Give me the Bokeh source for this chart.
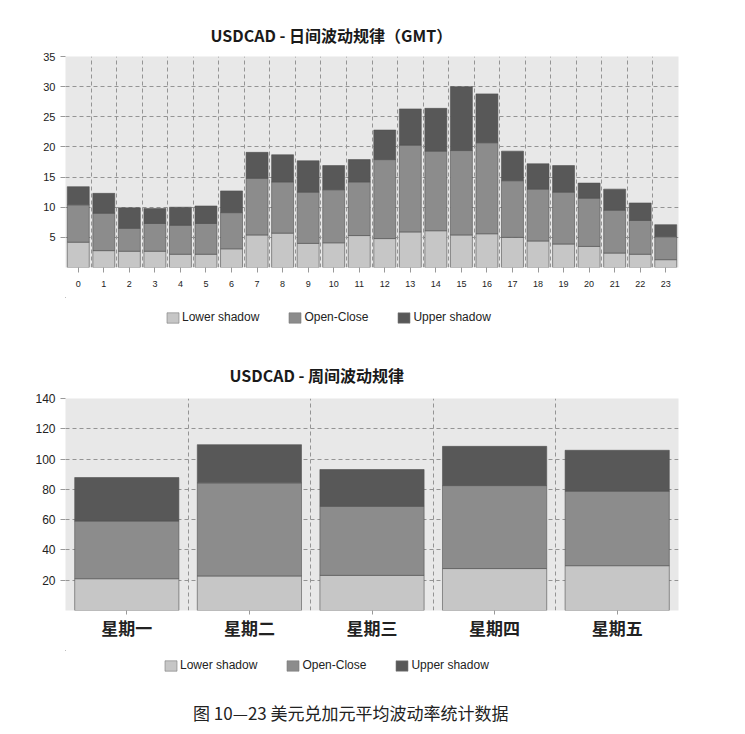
from bokeh.plotting import figure
from bokeh.models import (ColumnDataSource, Range1d, FixedTicker, Legend,
                          LegendItem, Label)
from bokeh.layouts import column
from bokeh.embed import file_html
from bokeh.resources import INLINE

# ---------------- data ----------------
hours = list(range(24))
hour_labels = [str(h) for h in hours]
hour_lower = [4.2, 2.8, 2.7, 2.7, 2.2, 2.2, 3.1, 5.4, 5.7, 4.0, 4.1, 5.3,
              4.8, 5.9, 6.1, 5.4, 5.6, 5.0, 4.4, 3.9, 3.5, 2.4, 2.2, 1.3]
hour_oc = [6.2, 6.2, 3.8, 4.6, 4.8, 5.1, 6.0, 9.4, 8.5, 8.5, 8.8, 8.9,
           13.1, 14.4, 13.2, 14.0, 15.1, 9.4, 8.6, 8.6, 8.0, 7.1, 5.6, 3.8]
hour_upper = [3.0, 3.3, 3.4, 2.5, 3.0, 2.9, 3.6, 4.3, 4.5, 5.2, 4.0, 3.7,
              4.9, 6.0, 7.1, 10.6, 8.1, 4.9, 4.2, 4.4, 2.5, 3.5, 2.9, 2.0]
hour_yticks = [5, 10, 15, 20, 25, 30, 35]

days = ["星期一", "星期二", "星期三", "星期四", "星期五"]
day_lower = [21.0, 22.8, 23.2, 27.7, 29.6]
day_oc = [38.1, 61.5, 45.6, 54.8, 49.2]
day_upper = [28.7, 25.2, 24.3, 25.9, 27.0]
day_yticks = [20, 40, 60, 80, 100, 120, 140]

series_names = ["Lower shadow", "Open-Close", "Upper shadow"]
series_colors = ["#c6c6c6", "#8c8c8c", "#585858"]

title_top = "USDCAD - 日间波动规律（GMT）"
title_bottom = "USDCAD - 周间波动规律"
caption = "图 10—23    美元兑加元平均波动率统计数据"

CJK = "Noto Sans CJK SC"
SANS = "Liberation Sans"
W = 730
LEFT = 65
RIGHT = 52


def make_chart(labels, lower, oc, upper, yticks, ymax, title, height,
               top, bottom, bar_w, xlabel_font, xlabel_size,
               xlabel_style, tick_out, xlabel_standoff, ylabel_size,
               title_offset, title_standoff):
    xs = list(range(len(labels)))
    src = ColumnDataSource(dict(x=xs, lower=lower, oc=oc, upper=upper))
    p = figure(width=W, height=height, output_backend="svg",
               toolbar_location=None,
               x_range=Range1d(-0.5, len(labels) - 0.5),
               y_range=Range1d(0, ymax),
               min_border_left=LEFT, min_border_right=RIGHT,
               min_border_top=top, min_border_bottom=bottom)
    p.outline_line_color = None
    p.background_fill_color = "#e8e8e8"
    p.border_fill_color = "white"

    p.vbar_stack(["lower", "oc", "upper"], x="x", width=bar_w, source=src,
                 fill_color=series_colors, line_color="#505050",
                 line_width=0.6)

    p.title.text = title
    p.title.text_font = CJK
    p.title.text_font_size = "16px"
    p.title.text_font_style = "bold"
    p.title.text_color = "#1a1a1a"
    p.title.align = "left"
    p.title.offset = title_offset
    p.title.standoff = title_standoff

    p.yaxis.ticker = FixedTicker(ticks=yticks)
    p.ygrid.ticker = FixedTicker(ticks=yticks)
    p.xaxis.ticker = FixedTicker(ticks=xs)
    p.xgrid.ticker = FixedTicker(ticks=[i + 0.5 for i in xs[:-1]])
    p.xaxis.major_label_overrides = {i: l for i, l in zip(xs, labels)}

    for g in (p.xgrid, p.ygrid):
        g.grid_line_color = "#949494"
        g.grid_line_dash = "4 3"
        g.grid_line_width = 1

    for ax in (p.xaxis, p.yaxis):
        ax.axis_line_color = None
        ax.major_tick_line_color = "#999999"
        ax.minor_tick_line_color = None
        ax.major_tick_in = 0
        ax.major_label_text_color = "#222222"

    p.yaxis.major_tick_out = 5
    p.yaxis.major_label_text_font = SANS
    p.yaxis.major_label_text_font_size = ylabel_size
    p.yaxis.major_label_standoff = 5

    p.xaxis.major_tick_out = tick_out
    p.xaxis.major_label_text_font = xlabel_font
    p.xaxis.major_label_text_font_size = xlabel_size
    p.xaxis.major_label_text_font_style = xlabel_style
    p.xaxis.major_label_standoff = xlabel_standoff
    return p


def make_strip(height, legend_x, legend_top):
    """A blank strip whose data coordinates equal page pixels
    (x from the left, y downward) holding the legend."""
    p = figure(width=W, height=height, output_backend="svg",
               toolbar_location=None, x_range=Range1d(LEFT, W - RIGHT),
               y_range=Range1d(height, 0), min_border_left=LEFT,
               min_border_right=RIGHT, min_border_top=0, min_border_bottom=0,
               x_axis_location=None, y_axis_location=None)
    p.grid.visible = False
    p.outline_line_color = None
    p.background_fill_color = "white"
    p.border_fill_color = "white"
    # off-screen swatch renderers that only feed the legend
    rs = [p.vbar(x=[-1000], top=[-1000], bottom=[-1001], width=1,
                 fill_color=c, line_color="#7a7a7a", line_width=0.6)
          for c in series_colors]
    legend = Legend(items=[LegendItem(label=n, renderers=[r])
                           for n, r in zip(series_names, rs)],
                    orientation="horizontal",
                    location=(legend_x - LEFT, height - legend_top - 13),
                    padding=0, margin=0, spacing=28,
                    glyph_width=15, glyph_height=13, label_standoff=2,
                    background_fill_alpha=0, border_line_color=None,
                    label_text_font=SANS, label_text_font_size="12px",
                    label_text_color="#222222", label_height=13)
    p.add_layout(legend)
    return p


p1 = make_chart(hour_labels, hour_lower, hour_oc, hour_upper, hour_yticks, 35,
                title_top, 297, 56, 30, 0.86,
                SANS, "9px", "normal", 5, 8, "11px", 145, 20)
leg1 = make_strip(43, 165, 14)

p2 = make_chart(days, day_lower, day_oc, day_upper, day_yticks, 140,
                title_bottom, 310, 58, 40, 0.85,
                CJK, "17px", "bold", 4, 0, "12px", 164, 24)
leg2 = make_strip(80, 163, 9)

# figure caption below the weekly chart (strip y runs downward from 650)
leg2.add_layout(Label(x=356, y=62, text=caption, text_font=CJK,
                      text_font_size="17px", text_color="#222222",
                      text_align="center", text_baseline="middle"))

layout = column(p1, leg1, p2, leg2, spacing=0)
open("out.html", "w").write(file_html(layout, INLINE))
